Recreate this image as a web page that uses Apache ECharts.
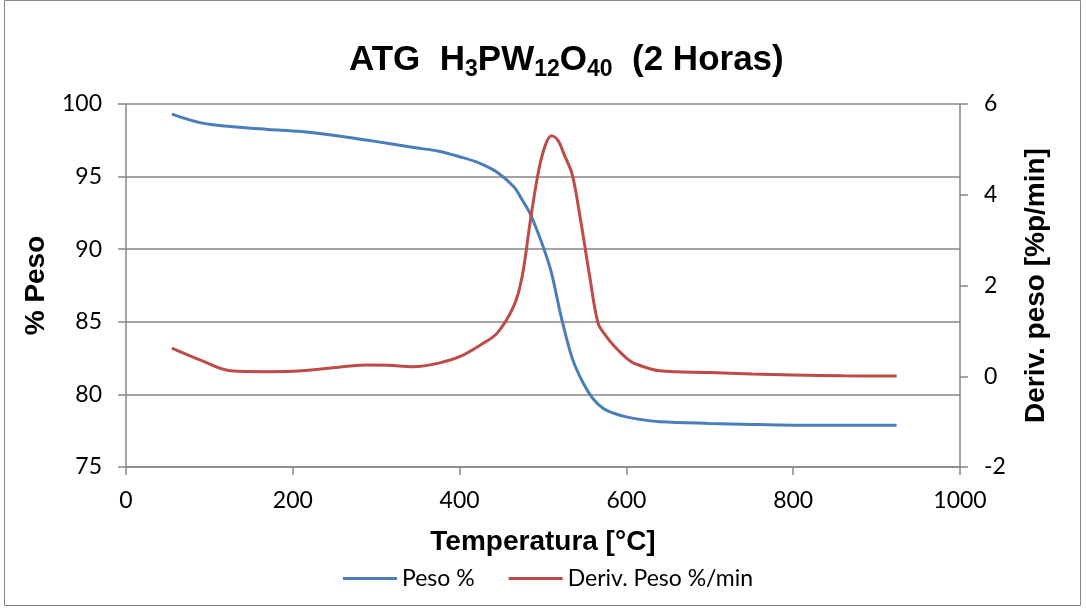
<!DOCTYPE html>
<html>
<head>
<meta charset="utf-8">
<script src="https://cdn.jsdelivr.net/npm/echarts@6/dist/echarts.min.js"></script>
<style>
  html, body { margin: 0; padding: 0; background: #fff; }
  #chart { width: 1086px; height: 611px; }
</style>
</head>
<body>
<div id="chart"></div>
<script>
// Peso % (left axis)
const pesoTemp   = [55, 90, 125, 170, 210, 255, 290, 315, 345, 375, 400, 425, 445, 465, 475, 485, 500, 510, 522, 535, 548, 560, 572, 585, 600, 620, 640, 700, 750, 800, 860, 924];
const pesoValues = [99.3, 98.7, 98.45, 98.25, 98.1, 97.8, 97.5, 97.28, 97.0, 96.75, 96.37, 95.9, 95.3, 94.3, 93.4, 92.4, 90.2, 88.4, 85.3, 82.5, 80.8, 79.7, 79.05, 78.7, 78.45, 78.25, 78.12, 78.0, 77.93, 77.88, 77.87, 77.87];

// Deriv. Peso %/min (right axis)
const derivTemp   = [55, 90, 125, 170, 210, 255, 290, 315, 345, 375, 400, 425, 445, 465, 475, 485, 495, 503, 510, 518, 525, 535, 545, 556, 566, 575, 585, 600, 610, 640, 700, 750, 800, 860, 924];
const derivValues = [0.62, 0.35, 0.12, 0.10, 0.12, 0.20, 0.25, 0.24, 0.21, 0.29, 0.43, 0.69, 0.95, 1.55, 2.2, 3.45, 4.55, 5.1, 5.3, 5.2, 4.9, 4.45, 3.45, 2.2, 1.17, 0.9, 0.67, 0.4, 0.28, 0.12, 0.08, 0.05, 0.03, 0.01, 0.005];

const seriesNames = ['Peso %', 'Deriv. Peso %/min'];

const chart = echarts.init(document.getElementById('chart'));

const axisGrey = '#868686';
const tickFont = { color: '#000', fontSize: 23, fontFamily: 'Lato' };
const nameFont = { color: '#000', fontSize: 28, fontWeight: 'bold', fontFamily: 'Liberation Sans' };

chart.setOption({
    animation: false,
    title: {
        left: 344,
        top: 35,
        text: '{b|ATG  H}{s|3}{b|PW}{s|12}{b|O}{s|40}{b|  (2 Horas)}',
        textStyle: {
            rich: {
                b: { fontSize: 35, fontWeight: 'bold', fontFamily: 'Liberation Sans', color: '#000' },
                s: { fontSize: 23, fontWeight: 'bold', fontFamily: 'Liberation Sans', color: '#000', padding: [18, 0, 0, 0] }
            }
        }
    },
    graphic: [{
        type: 'rect',
        shape: { x: 4.5, y: 0.5, width: 1076, height: 605 },
        style: { fill: 'none', stroke: axisGrey, lineWidth: 1 }
    }],
    legend: {
        left: 338,
        top: 562,
        itemGap: 34,
        icon: 'rect',
        itemWidth: 54,
        itemHeight: 3,
        textStyle: { color: '#000', fontSize: 23, fontFamily: 'Lato' },
        data: seriesNames
    },
    grid: { left: 126, right: 126, top: 104, bottom: 144 },
    xAxis: {
        type: 'value',
        min: 0,
        max: 1000,
        interval: 200,
        name: 'Temperatura [°C]',
        nameLocation: 'middle',
        nameGap: 61,
        nameTextStyle: nameFont,
        axisLine: { show: true, onZero: false, lineStyle: { color: axisGrey, width: 1.5 } },
        axisTick: { show: true, length: 8, lineStyle: { color: axisGrey, width: 1.5 } },
        axisLabel: Object.assign({ margin: 22, formatter: v => String(v) }, tickFont),
        splitLine: { show: false }
    },
    yAxis: [{
        type: 'value',
        min: 75,
        max: 100,
        interval: 5,
        name: '% Peso',
        nameLocation: 'middle',
        nameGap: 76,
        nameTextStyle: nameFont,
        axisLine: { show: true, lineStyle: { color: axisGrey, width: 1.5 } },
        axisTick: { show: true, length: 8, lineStyle: { color: axisGrey, width: 1.5 } },
        axisLabel: Object.assign({ margin: 24 }, tickFont),
        splitLine: { show: true, lineStyle: { color: axisGrey, width: 1.5 } }
    }, {
        type: 'value',
        min: -2,
        max: 6,
        interval: 2,
        name: 'Deriv. peso [%p/min]',
        nameLocation: 'middle',
        nameGap: 62,
        nameTextStyle: nameFont,
        axisLine: { show: true, lineStyle: { color: axisGrey, width: 1.5 } },
        axisTick: { show: true, length: 8, lineStyle: { color: axisGrey, width: 1.5 } },
        axisLabel: Object.assign({ margin: 24 }, tickFont),
        splitLine: { show: false }
    }],
    series: [{
        name: seriesNames[0],
        type: 'line',
        yAxisIndex: 0,
        smooth: 0.35,
        showSymbol: false,
        color: '#4a7ebb',
        lineStyle: { width: 3, color: '#4a7ebb' },
        data: pesoTemp.map((t, i) => [t, pesoValues[i]])
    }, {
        name: seriesNames[1],
        type: 'line',
        yAxisIndex: 1,
        smooth: 0.35,
        showSymbol: false,
        color: '#be4b48',
        lineStyle: { width: 3, color: '#be4b48' },
        data: derivTemp.map((t, i) => [t, derivValues[i]])
    }]
});
</script>
</body>
</html>
